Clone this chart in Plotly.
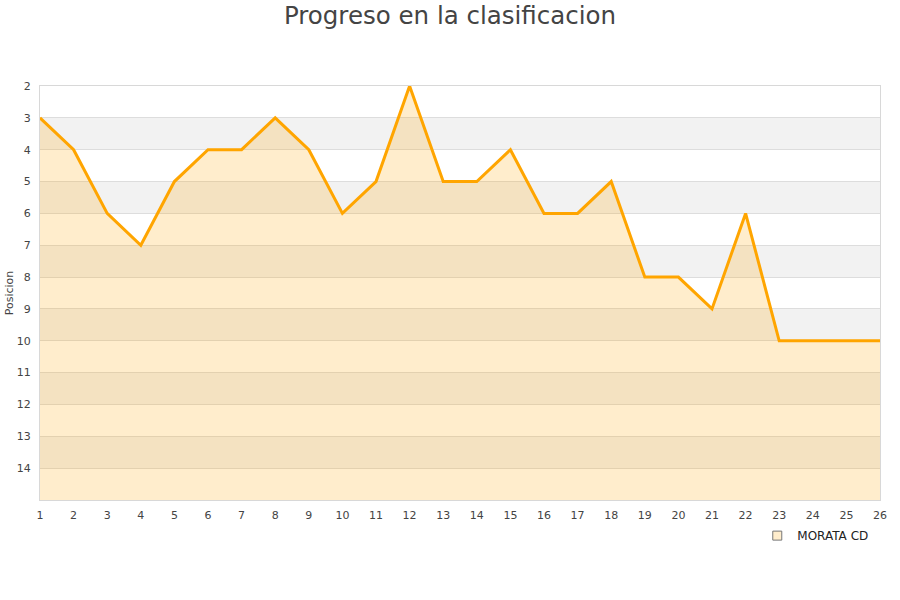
import plotly.graph_objects as go

jornadas = list(range(1, 27))
posiciones = [3, 4, 6, 7, 5, 4, 4, 3, 4, 6, 5, 2, 5, 5, 4, 6, 6, 5, 8, 8, 9, 6, 10, 10, 10, 10]
equipo = "MORATA CD"
y_ticks = list(range(2, 15))
y_min, y_max = 2, 15

fig = go.Figure()

# baseline for fill
fig.add_trace(go.Scatter(x=jornadas, y=[y_max] * len(jornadas), mode="lines",
                         line=dict(width=0, color="rgba(0,0,0,0)"), showlegend=False,
                         hoverinfo="skip"))
fig.add_trace(go.Scatter(x=jornadas, y=posiciones, mode="lines", fill="tonexty",
                         fillcolor="rgba(255,165,0,0.2)",
                         line=dict(color="#FFA500", width=3), showlegend=False, name=equipo))
# legend entry
fig.add_trace(go.Scatter(x=[None], y=[None], mode="markers", name=equipo,
                         marker=dict(symbol="square", size=9, color="#FFEDCC",
                                     line=dict(color="#777777", width=1))))

shapes = []
for k in range(3, 15, 2):
    shapes.append(dict(type="rect", xref="paper", yref="y", x0=0, x1=1, y0=k, y1=k + 1,
                       fillcolor="#F2F2F2", line=dict(width=0), layer="below"))

fig.update_layout(
    width=900, height=600,
    paper_bgcolor="white", plot_bgcolor="white",
    margin=dict(l=40, r=20, t=86, b=100, autoexpand=False),
    title=dict(text="Progreso en la clasificacion", x=0.5, xanchor="center", y=0.975, yanchor="middle",
               font=dict(family="DejaVu Sans, Verdana, sans-serif", size=24.5, color="#444444")),
    font=dict(family="DejaVu Sans, Verdana, sans-serif", size=11, color="#444444"),
    shapes=shapes,
    showlegend=True,
    legend=dict(x=0.992, y=-0.051, xanchor="right", yanchor="top", bgcolor="rgba(0,0,0,0)",
                font=dict(size=12, color="#222222"), itemwidth=30),
    xaxis=dict(range=[1, 26], tickvals=jornadas, showgrid=False, zeroline=False, automargin=False,
               showline=True, linecolor="#D8D8D8", linewidth=1, mirror=True, ticks="",
               ticklabelstandoff=5, tickfont=dict(size=11, color="#444444")),
    yaxis=dict(range=[y_max, y_min], tickvals=y_ticks, showgrid=True, gridcolor="#DDDDDD",
               zeroline=False, showline=True, linecolor="#D8D8D8", linewidth=1, mirror=True,
               ticks="", automargin=False, ticklabelstandoff=6,
               title=dict(text="Posicion", font=dict(size=11, color="#444444"), standoff=0),
               tickfont=dict(size=11, color="#444444")),
)

fig.write_html("out.html", config={"displayModeBar": False},
               post_script="document.body.style.margin='0px';")
